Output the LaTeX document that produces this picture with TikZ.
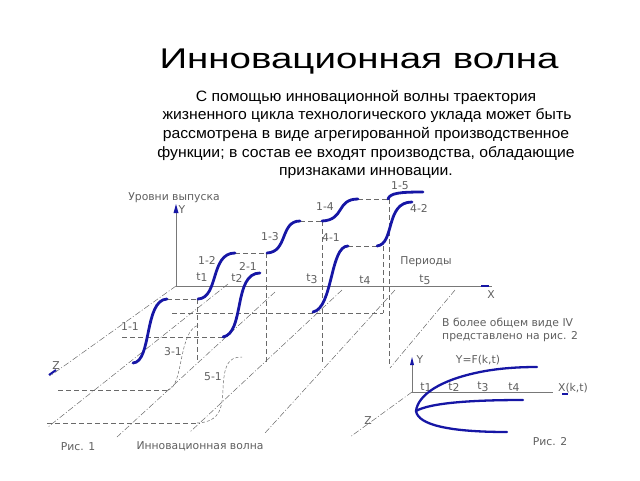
\documentclass[tikz,border=0pt]{standalone}
\usepackage{fontspec}
\setmainfont{Liberation Sans}
\newfontfamily\sketchfont{DejaVu Sans}
\definecolor{wblue}{RGB}{22,22,165}
\definecolor{lgray}{RGB}{105,105,105}
\definecolor{tgray}{RGB}{95,95,95}
\definecolor{agray}{RGB}{120,120,120}
\begin{document}
\begin{tikzpicture}[x=1pt,y=-1pt,
  wave/.style={draw=wblue, line width=2.8pt, line cap=round},
  guide/.style={draw=lgray, line width=0.6pt, dash pattern=on 5pt off 3pt},
  dguide/.style={draw=lgray, line width=0.5pt, dash pattern=on 3pt off 2pt},
  oblique/.style={draw=lgray, line width=0.5pt, dash pattern=on 6pt off 2pt on 1pt off 2pt},
  axis/.style={draw=agray, line width=0.7pt},
  lbl/.style={text=tgray, font=\sketchfont\fontsize{10.8}{12}\selectfont, inner sep=0pt},
  bodyline/.style={anchor=base, inner sep=0pt, font=\fontsize{15}{18}\selectfont, xscale=1.05},
  tip/.style={fill=wblue},
]
\useasboundingbox (0,0) rectangle (640,480);

% title and text
\node[anchor=base, inner sep=0pt, font=\fontsize{28.5}{30}\selectfont, xscale=1.35] (title) at (359,68) {Инновационная волна};
\node[bodyline] (b1) at (366,101) {С помощью инновационной волны траектория};
\node[bodyline] (b2) at (367,119.7) {жизненного цикла технологического уклада может быть};
\node[bodyline] (b3) at (366,138.4) {рассмотрена в виде агрегированной производственное};
\node[bodyline] (b4) at (366,157.1) {функции; в состав ее входят производства, обладающие};
\node[bodyline] (b5) at (366,175.8) {признаками инновации.};

% ===== Fig 1 axes =====
\coordinate (O) at (176,286);
\coordinate (Ytop) at (176,209);
\coordinate (Xend) at (492,286);
\coordinate (Zend) at (50,376);
\draw[axis] (O) -- (Ytop);
\fill[tip] (173.5,213) -- (176,204) -- (178.5,213) -- cycle;
\draw[axis] (O) -- (Xend);
\draw[wblue, line width=1.8pt] (481,286) -- (489,286);
\draw[oblique] (O) -- (Zend);
\draw[wblue, line width=2pt] (49,375) -- (56,370);

% oblique lines
\coordinate (a2) at (228,284); \coordinate (b2) at (48,427);
\coordinate (a3) at (275,292); \coordinate (b3) at (117,437);
\coordinate (a4) at (342,290); \coordinate (b4) at (190,432);
\coordinate (a5) at (395,290); \coordinate (b5) at (265,433);
\coordinate (a6) at (455,290); \coordinate (b6) at (390,368);
\draw[oblique] (a2) -- (b2);
\draw[oblique] (a3) -- (b3);
\draw[oblique] (a4) -- (b4);
\draw[oblique] (a5) -- (b5);
\draw[oblique] (a6) -- (b6);

% wave end points
\coordinate (w11a) at (133,363); \coordinate (w11b) at (167,299);
\coordinate (w12a) at (198,299); \coordinate (w12b) at (235,253);
\coordinate (w13a) at (267,253); \coordinate (w13b) at (300,221);
\coordinate (w14a) at (322,221); \coordinate (w14b) at (358,199);
\coordinate (w15a) at (388,199); \coordinate (w15b) at (423,192);
\coordinate (w21a) at (223,337); \coordinate (w21b) at (260,273);
\coordinate (w41a) at (313,312); \coordinate (w41b) at (348,246);
\coordinate (w42a) at (377,246); \coordinate (w42b) at (412,202);

% dashed guides
\draw[guide] (w11b) -- (w12a);
\draw[guide] (w12b) -- (w13a);
\draw[guide] (w13b) -- (w14a);
\draw[guide] (w14b) -- (w15a);
\draw[guide] (w41b) -- (w42a);
\draw[guide] (197,299) -- (197,362);
\draw[guide] (266,253) -- (266,362);
\draw[guide] (322,221) -- (322,362);
\draw[guide] (389,199) -- (389,365);
\draw[guide] (383,246) -- (383,313);
\draw[guide] (172,313) -- (383,313);
\draw[guide] (122,337) -- (w21a);
\draw[guide] (58,390) -- (168,390);
\draw[guide] (47,423) -- (200,423);

% dashed small waves
\draw[dguide] (168,390) .. controls (184,386) and (178,330) .. (199,325);
\draw[dguide] (197,423) .. controls (222,422) and (222,405) .. (223,390)
   .. controls (224,365) and (228,357) .. (242,357);

% blue waves
\draw[wave] (w11a) .. controls (152,362) and (144,300) .. (w11b);
\draw[wave] (w12a) .. controls (219,298) and (210,253) .. (w12b);
\draw[wave] (w13a) .. controls (288,252) and (280,221) .. (w13b);
\draw[wave] (w14a) .. controls (345,220) and (336,199) .. (w14b);
\draw[wave] (w15a) .. controls (390,193) and (400,192) .. (w15b);
\draw[wave] (w21a) .. controls (245,333) and (233,273) .. (w21b);
\draw[wave] (w41a) .. controls (333,308) and (330,246) .. (w41b);
\draw[wave] (w42a) .. controls (395,244) and (385,202) .. (w42b);

% labels fig 1
\node[lbl] (lev) at (174,198) {Уровни выпуска};
\node[lbl] (ly) at (182,210) {Y};
\node[lbl] (lx) at (491,295) {X};
\node[lbl] (lz) at (56,366) {Z};
\node[lbl] (per) at (426,262) {Периоды};
\node[lbl] (t1) at (202,277) {t\raisebox{-1.5pt}{1}};
\node[lbl] (t2) at (237,278) {t\raisebox{-1.5pt}{2}};
\node[lbl] (t3) at (312,279) {t\raisebox{-1.5pt}{3}};
\node[lbl] (t4) at (365,280) {t\raisebox{-1.5pt}{4}};
\node[lbl] (t5) at (425,280) {t\raisebox{-1.5pt}{5}};
\node[lbl] (l11) at (130,327) {1-1};
\node[lbl] (l12) at (207,260) {1-2};
\node[lbl] (l13) at (270,237) {1-3};
\node[lbl] (l14) at (325,207) {1-4};
\node[lbl] (l15) at (400,186) {1-5};
\node[lbl] (l21) at (248,266) {2-1};
\node[lbl] (l41) at (331,238) {4-1};
\node[lbl] (l42) at (419,208) {4-2};
\node[lbl] (l31) at (173,352) {3-1};
\node[lbl] (l51) at (213,377) {5-1};
\node[lbl] (fig1) at (78,447) {Рис. 1};
\node[lbl] (fig1b) at (200,446) {Инновационная волна};

% ===== Fig 2 =====
\node[lbl, anchor=west] (g1) at (442,323) {В более общем виде IV};
\node[lbl, anchor=west] (g2) at (442,337) {представлено на рис. 2};
\coordinate (O2) at (412,392);
\coordinate (Y2) at (412,361);
\coordinate (X2) at (553,392);
\coordinate (Z2) at (350,437);
\draw[axis] (O2) -- (Y2);
\fill[tip] (410,365) -- (412,357) -- (414,365) -- cycle;
\draw[axis] (O2) -- (X2);
\draw[oblique] (O2) -- (Z2);
\node[lbl] (y2l) at (420,360) {Y};
\node[lbl] (f2) at (478,360) {Y=F(k,t)};
\node[lbl] (x2l) at (573,388) {X(k,t)};
\draw[wblue, line width=1.2pt] (562,394) -- (568,394);
\node[lbl] (s1) at (426,387) {t\raisebox{-1.5pt}{1}};
\node[lbl] (s2) at (454,387) {t\raisebox{-1.5pt}{2}};
\node[lbl] (s3) at (483,387) {t\raisebox{-1.5pt}{3}};
\node[lbl] (s4) at (514,387) {t\raisebox{-1.5pt}{4}};
\node[lbl] (lz2) at (368,421) {Z};
\coordinate (V) at (416,411);
\draw[wave, line width=2.3pt] (V) .. controls (418,395) and (440,380) .. (480,372)
   .. controls (500,368) and (520,367) .. (537,367);
\draw[wave, line width=2.3pt] (V) .. controls (430,403) and (470,400) .. (523,400);
\draw[wave, line width=2.3pt] (V) .. controls (418,425) and (450,432) .. (507,432);
\node[lbl] (fig2) at (550,442) {Рис. 2};
\end{tikzpicture}
\end{document}
